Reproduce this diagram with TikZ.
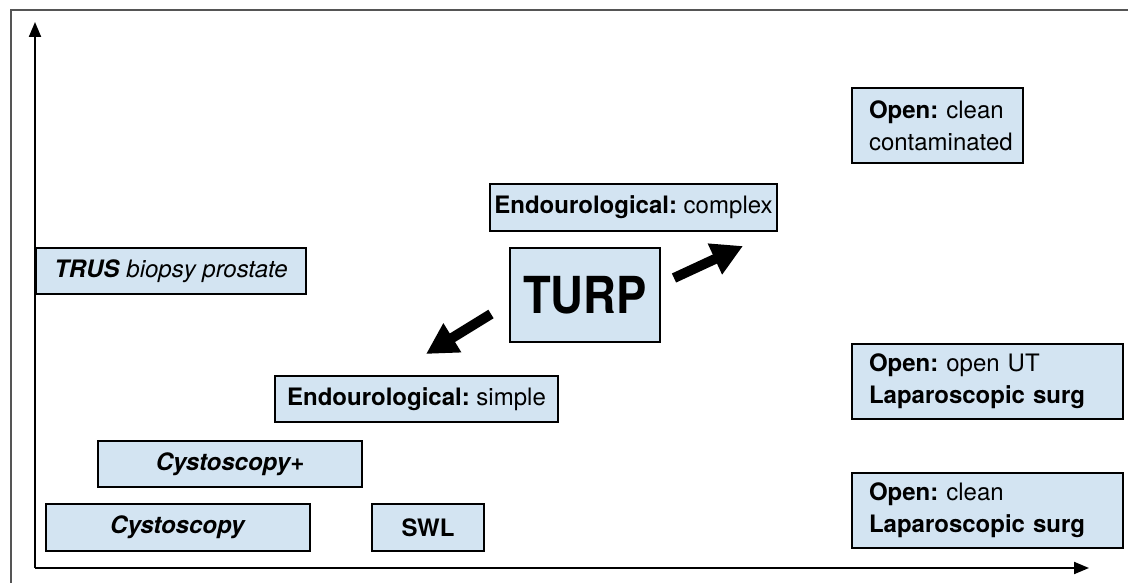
\documentclass[tikz,border=0pt]{standalone}
\usepackage{fontspec}
\setmainfont{TeX Gyre Heros}
\usetikzlibrary{arrows.meta}
\definecolor{boxfill}{HTML}{D3E4F2}
\definecolor{framegrey}{HTML}{555555}
\frenchspacing
\tikzset{
  box/.style={draw=black, line width=2.2pt, fill=boxfill, inner sep=0pt, font=\fontsize{24}{32}\selectfont},
  leftbox/.style={box, align=left, inner xsep=17pt},
  axis/.style={line width=2pt, -{Triangle[length=15pt,width=12pt]}},
  bigarrow/.style={line width=10pt, -{Triangle[length=31pt,width=32pt]}},
}
\begin{document}
\begin{tikzpicture}[x=1pt,y=-1pt]
\useasboundingbox (0,0) rectangle (1128,583);
% frame
\draw[framegrey, line width=1.2pt] (11,583) -- (11,10) -- (1128,10);
% axes
\coordinate (origin) at (35,568);
\coordinate (ytip) at (35,22);
\coordinate (xtip) at (1089,568);
\draw[axis] (origin) -- (ytip);
\draw[axis] (origin) -- (xtip);
% boxes
\node[box, minimum width=270pt, minimum height=46pt] (trus) at (171,271) {\textbf{\textit{TRUS}} \textit{biopsy prostate}};
\node[box, minimum width=287pt, minimum height=47pt] (endoc) at (633.5,207.5) {\textbf{Endourological:} complex};
\node[box, minimum width=150pt, minimum height=94pt, font=\fontsize{51}{55}\selectfont\bfseries] (turp) at (585,295) {\scalebox{0.89}[1]{TURP}};
\node[box, minimum width=283pt, minimum height=46pt] (endos) at (416.5,399) {\textbf{Endourological:} simple};
\node[box, minimum width=264pt, minimum height=46pt] (cystop) at (230,464) {\textbf{\textit{Cystoscopy+}}};
\node[box, minimum width=264pt, minimum height=47pt] (cysto) at (178,527.5) {\textbf{\textit{Cystoscopy}}};
\node[box, minimum width=112pt, minimum height=47pt] (swl) at (428,527.5) {\textbf{SWL}};
\node[leftbox, text width=137pt, minimum height=75pt] (opencc) at (937.5,125.5) {\textbf{Open:} clean\\contaminated};
\node[leftbox, text width=237pt, minimum height=75pt] (openut) at (987.5,381.5) {\textbf{Open:} open UT\\\textbf{Laparoscopic surg}};
\node[leftbox, text width=237pt, minimum height=75pt] (openclean) at (987.5,510.5) {\textbf{Open:} clean\\\textbf{Laparoscopic surg}};
% arrows from TURP
\coordinate (upTail) at (674,278);
\coordinate (upTip) at (743,246);
\coordinate (dnTail) at (491,314);
\coordinate (dnTip) at (426,354);
\draw[bigarrow] (upTail) -- (upTip);
\draw[bigarrow] (dnTail) -- (dnTip);
\end{tikzpicture}
\end{document}
